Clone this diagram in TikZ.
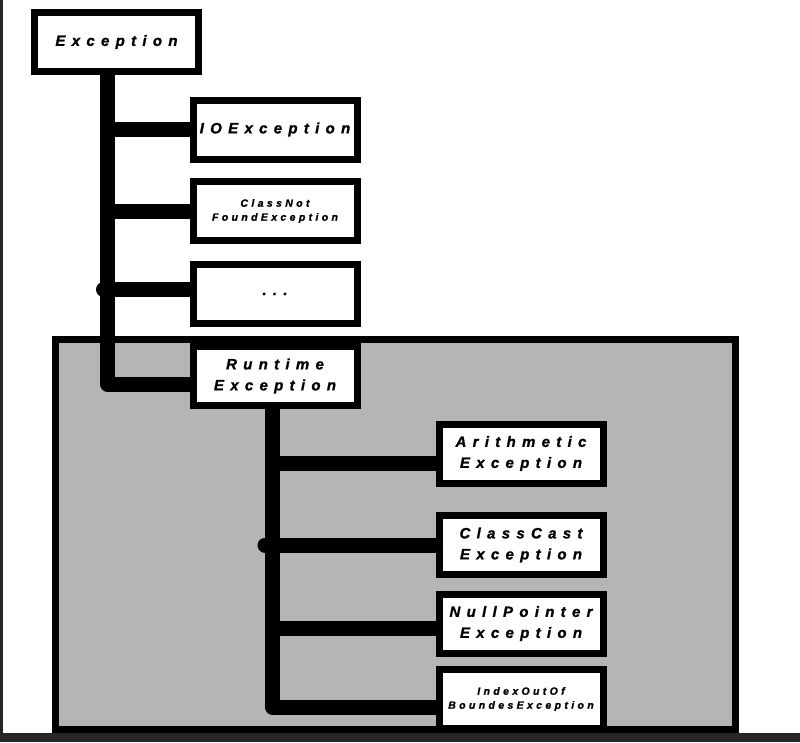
\documentclass[tikz,border=0pt]{standalone}
\usepackage{fontspec}
\newfontfamily\boxfont{Liberation Sans}[LetterSpace=42, BoldItalicFeatures={FakeBold=1.2}]
\newfontfamily\smallboxfont{Liberation Sans}[LetterSpace=32, BoldItalicFeatures={FakeBold=1.2}]
\usetikzlibrary{positioning}
\usetikzlibrary{calc}
\definecolor{shade}{HTML}{B5B5B5}
\definecolor{frame}{HTML}{262626}

\begin{document}
\begin{tikzpicture}[x=1pt,y=-1pt]
	\tikzset{classbox/.style = {shape=rectangle, draw, line width=7pt, fill=white, minimum width=164pt, minimum height=59pt, inner sep=0pt, align=center, font=\boxfont\bfseries\itshape\fontsize{15}{21}\selectfont}}
	\tikzset{smallbox/.style = {classbox, font=\smallboxfont\bfseries\itshape\fontsize{10.5}{14}\selectfont}}
	\tikzset{link/.style = {line width=15pt, line join=round}}
	
	\useasboundingbox (0,0) rectangle (800,742);
	
	% unchecked part
	\filldraw[fill=shade, draw=black, line width=7pt] (55.5,339.5) rectangle (735.5,729.5);
	
	\node[classbox] (EXC) at (116.5,42) {Exception};
	\node[classbox] (IOE) at (275,129.5) {IOException};
	\node[smallbox] (CNF) at (275,211) {ClassNot\\FoundException};
	\node[classbox] (DOTS) at (275,294) {...};
	\node[classbox] (RTE) at (275,376) {Runtime\\Exception};
	\node[classbox] (ARI) at (521,453.5) {Arithmetic\\Exception};
	\node[classbox] (CCE) at (521,545) {ClassCast\\Exception};
	\node[classbox] (NPE) at (521,623.5) {NullPointer\\Exception};
	\node[smallbox] (IOB) at (521,699) {IndexOutOf\\BoundesException};
	
	% first level
	\coordinate (T1) at ($(EXC.south)+(-9,0)$);
	\draw[link] (T1) |- ($(RTE.west)+(0,8)$);
	\draw[link] (T1 |- IOE.west) -- (IOE.west);
	\draw[link] (T1 |- CNF.west) -- (CNF.west);
	\draw[link, line cap=round] ($(T1 |- DOTS.west)+(-4,-4.5)$) -- ($(DOTS.west)+(0,-4.5)$);
	
	% runtime level
	\coordinate (T2) at ($(RTE.south)+(-2.5,0)$);
	\draw[link] (T2) |- ($(IOB.west)+(0,8)$);
	\draw[link] ($(T2 |- ARI.west)+(0,9.5)$) -- ($(ARI.west)+(0,9.5)$);
	\draw[link, line cap=round] ($(T2 |- CCE.west)+(-7.5,0)$) -- (CCE.west);
	\draw[link] ($(T2 |- NPE.west)+(0,4.5)$) -- ($(NPE.west)+(0,4.5)$);
	
	\fill[frame] (0,0) rectangle (3,742);
	\fill[frame] (0,733) rectangle (800,742);
\end{tikzpicture}
\end{document}
